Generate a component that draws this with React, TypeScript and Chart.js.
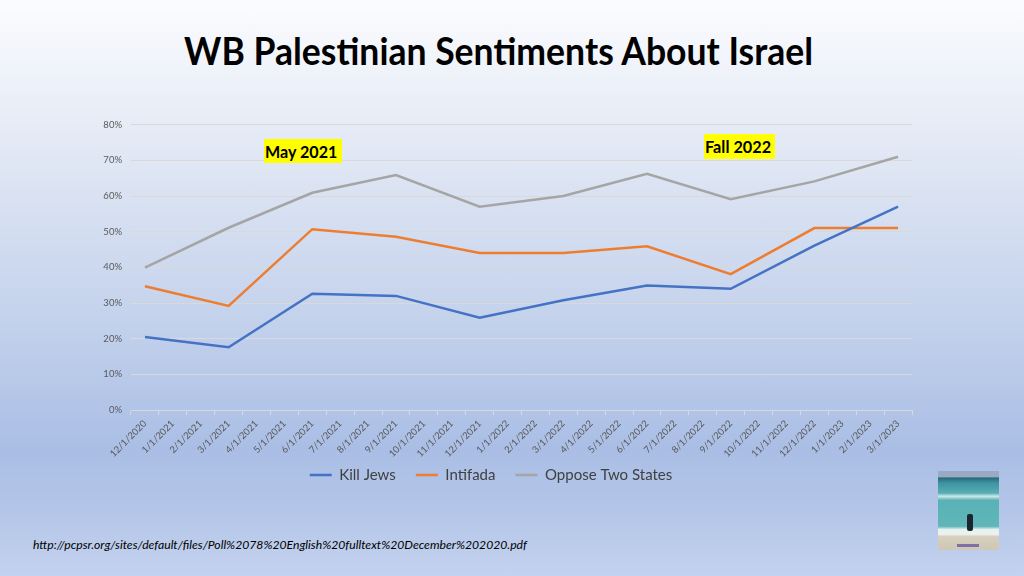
import React, { useEffect, useLayoutEffect, useRef } from "react";
import { Chart, registerables } from "chart.js";

Chart.register(...registerables);

// ---- data ----
const monthLabels = [
  "12/1/2020",
  "1/1/2021", "2/1/2021", "3/1/2021", "4/1/2021", "5/1/2021", "6/1/2021",
  "7/1/2021", "8/1/2021", "9/1/2021", "10/1/2021", "11/1/2021", "12/1/2021",
  "1/1/2022", "2/1/2022", "3/1/2022", "4/1/2022", "5/1/2022", "6/1/2022",
  "7/1/2022", "8/1/2022", "9/1/2022", "10/1/2022", "11/1/2022", "12/1/2022",
  "1/1/2023", "2/1/2023", "3/1/2023",
];
const surveyDates = [
  "12/1/2020", "3/1/2021", "6/1/2021", "9/1/2021", "12/1/2021",
  "3/1/2022", "6/1/2022", "9/1/2022", "12/1/2022", "3/1/2023",
];
const killJews = [20.5, 17.6, 32.6, 32.0, 25.9, 30.8, 34.9, 34.0, 46.1, 57.0];
const intifada = [34.7, 29.2, 50.7, 48.6, 44.0, 44.0, 45.9, 38.1, 51.0, 51.0];
const opposeTwoStates = [39.9, 51.1, 60.9, 65.9, 57.0, 60.0, 66.2, 59.1, 64.1, 71.0];
const seriesNames = ["Kill Jews", "Intifada", "Oppose Two States"];
const seriesColors = ["#4472C4", "#ED7D31", "#A5A5A5"];
const yMax = 80;
const yStep = 10;

const titleText = "WB Palestinian Sentiments About Israel";
const noteMay = "May 2021";
const noteFall = "Fall 2022";
const sourceText =
  "http://pcpsr.org/sites/default/files/Poll%2078%20English%20fulltext%20December%202020.pdf";

function FitText(props: {
  text: string;
  width: number;
  style: React.CSSProperties;
}) {
  const ref = useRef<HTMLSpanElement>(null);
  useLayoutEffect(() => {
    const el = ref.current;
    if (!el) return;
    el.style.transform = "none";
    const w = el.offsetWidth;
    if (w > 0) el.style.transform = `scaleX(${props.width / w})`;
  }, [props.text, props.width]);
  return (
    <span
      ref={ref}
      style={{
        display: "inline-block",
        whiteSpace: "nowrap",
        transformOrigin: "left center",
        ...props.style,
      }}
    >
      {props.text}
    </span>
  );
}

// moves the bottom legend up a little, closer to the axis labels
const legendShift = {
  id: "legendShift",
  afterLayout(chart: any) {
    const l = chart.legend;
    if (l) {
      l.top -= 9.5;
      l.bottom -= 9.5;
    }
  },
};

export default function App() {
  const canvasRef = useRef<HTMLCanvasElement>(null);

  useEffect(() => {
    document.body.style.margin = "0";
    const canvas = canvasRef.current;
    if (!canvas) return;
    const series = [killJews, intifada, opposeTwoStates];
    const chart = new Chart(canvas, {
      type: "line",
      data: {
        labels: monthLabels,
        datasets: series.map((vals, i) => ({
          label: seriesNames[i],
          data: surveyDates.map((d, j) => ({ x: d, y: vals[j] })),
          borderColor: seriesColors[i],
          backgroundColor: seriesColors[i],
          borderWidth: 2.5,
          pointRadius: 0,
          pointHoverRadius: 0,
          tension: 0,
          fill: false,
          pointStyle: "line",
        })),
      },
      plugins: [legendShift],
      options: {
        animation: false,
        responsive: true,
        maintainAspectRatio: false,
        layout: { padding: { top: 14, right: 18, left: 0, bottom: 0 } },
        plugins: {
          tooltip: { enabled: false },
          legend: {
            position: "bottom",
            labels: {
              usePointStyle: true,
              pointStyleWidth: 22,
              padding: 20,
              color: "#404040",
              font: { family: "Lato", size: 15 },
            },
          },
        },
        scales: {
          x: {
            type: "category",
            offset: true,
            afterFit: (scale: any) => {
              scale.height = 47;
            },
            grid: {
              offset: true,
              drawOnChartArea: false,
              drawTicks: true,
              tickLength: 5,
              color: "#d9d9d9",
            },
            border: { color: "#d9d9d9" },
            ticks: {
              autoSkip: false,
              maxRotation: 45,
              minRotation: 45,
              color: "#595959",
              padding: 3,
              font: { family: "Lato", size: 9.5 },
            },
          },
          y: {
            min: 0,
            max: yMax,
            afterFit: (scale: any) => {
              scale.width = 61;
            },
            grid: { color: "#d9d9d9", drawTicks: false },
            border: { display: false },
            ticks: {
              stepSize: yStep,
              padding: 9,
              color: "#595959",
              font: { family: "Lato", size: 9.5 },
              callback: (v: any) => `${v}%`,
            },
          },
        },
      },
    });
    return () => chart.destroy();
  }, []);

  return (
    <div
      style={{
        position: "fixed",
        left: 0,
        top: 0,
        width: 1024,
        height: 576,
        overflow: "hidden",
        background:
          "linear-gradient(180deg, #fbfcfe 0%, #e3e9f5 25%, #c4d2ec 55%, #aabee5 78%, #b3c5e8 88%, #c3d2ee 100%)",
        fontFamily: "Lato, sans-serif",
      }}
    >
      <div style={{ position: "absolute", left: 184, top: 31, lineHeight: 1 }}>
        <FitText
          text={titleText}
          width={629}
          style={{ fontSize: 38, fontWeight: 700, color: "#000" }}
        />
      </div>

      <div
        style={{
          position: "absolute",
          left: 70,
          top: 110,
          width: 860,
          height: 392,
        }}
      >
        <canvas ref={canvasRef} />
      </div>

      <div
        style={{
          position: "absolute",
          left: 264,
          top: 139,
          width: 78,
          height: 24,
          background: "#FFFF00",
          display: "flex",
          alignItems: "center",
          justifyContent: "center",
        }}
      >
        <FitText
          text={noteMay}
          width={72}
          style={{ fontSize: 17, fontWeight: 700, color: "#000" }}
        />
      </div>
      <div
        style={{
          position: "absolute",
          left: 704,
          top: 134,
          width: 71,
          height: 25,
          background: "#FFFF00",
          display: "flex",
          alignItems: "center",
          justifyContent: "center",
        }}
      >
        <FitText
          text={noteFall}
          width={66}
          style={{ fontSize: 17, fontWeight: 700, color: "#000" }}
        />
      </div>

      <div style={{ position: "absolute", left: 33, top: 535, lineHeight: 1 }}>
        <FitText
          text={sourceText}
          width={494}
          style={{ fontSize: 12, fontStyle: "italic", color: "#000" }}
        />
      </div>

      <div
        style={{
          position: "absolute",
          left: 938,
          top: 471,
          width: 61,
          height: 79,
          background:
            "linear-gradient(180deg, #9aaac2 0%, #9aaac2 7%, #2a6a7c 9%, #3d93a0 15%, #58aeb3 28%, #cfe8ea 32%, #5ab2b6 37%, #60b6b9 70%, #e4f2f0 74%, #eef2ee 80%, #d8d0bf 83%, #cfc7b4 100%)",
        }}
      >
        <div
          style={{
            position: "absolute",
            left: 29,
            top: 43,
            width: 6,
            height: 17,
            background: "#1e2430",
            borderRadius: 2,
          }}
        />
        <div
          style={{
            position: "absolute",
            left: 19,
            top: 73,
            width: 22,
            height: 3,
            background: "#5a4aa0",
            opacity: 0.7,
          }}
        />
      </div>
    </div>
  );
}
